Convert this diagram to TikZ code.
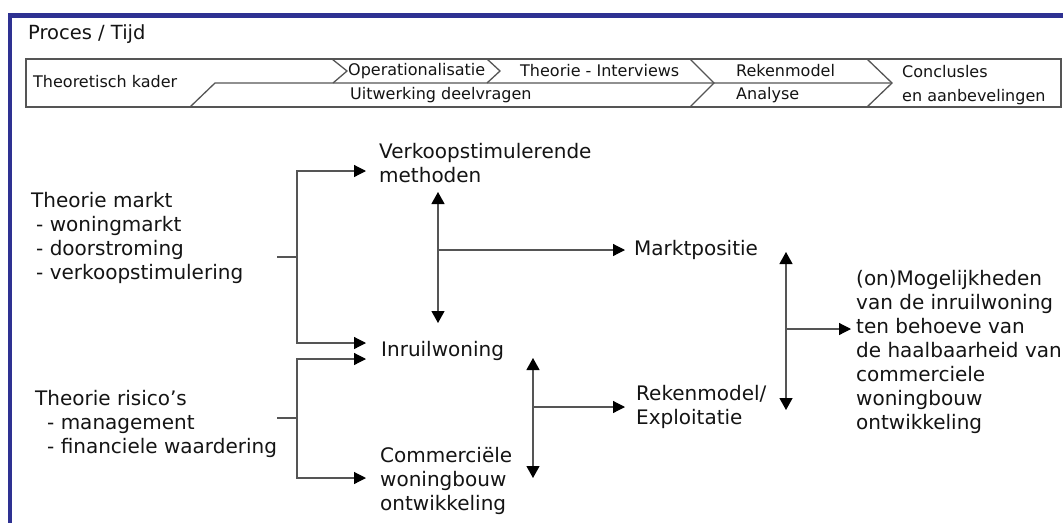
\documentclass[tikz,border=0pt]{standalone}
\usepackage{fontspec}
\setmainfont{DejaVu Sans}
\usetikzlibrary{arrows.meta}
\definecolor{borderblue}{RGB}{46,49,146}
\definecolor{lngray}{RGB}{85,85,85}
\definecolor{txtc}{RGB}{20,20,20}
\tikzset{
  txt/.style={inner sep=0pt, anchor=west, align=left, text=txtc, font=\fontsize{20}{24}\selectfont},
  bartxt/.style={inner sep=0pt, anchor=west, align=left, text=txtc, font=\fontsize{16}{24}\selectfont},
  bar/.style={draw=lngray, line width=1.3pt},
  ln/.style={draw=lngray, line width=1.2pt},
  ar/.style={ln, -{Triangle[length=12pt,width=12pt,color=black]}},
  dar/.style={ln, {Triangle[length=12pt,width=13pt,color=black]}-{Triangle[length=12pt,width=13pt,color=black]}}
}
\begin{document}
\begin{tikzpicture}[x=1pt,y=-1pt]
\useasboundingbox (0,0) rectangle (1063,523);
\fill[white] (0,0) rectangle (1063,523);
% border
\fill[borderblue] (8,13) rectangle (1063,18);
\fill[borderblue] (8,13) rectangle (12,523);
% title
\node[txt, font=\fontsize{19.5}{22}\selectfont] (title) at (28,34) {Proces / Tijd};
% process bar
\draw[bar] (26,59) rectangle (1061,107);
\draw[bar] (190,107) -- (215,83) -- (892,83);
\draw[bar] (332,59) -- (347,71) -- (333,83);
\draw[bar] (487,59) -- (500,71) -- (487,83);
\draw[bar] (690,59) -- (714,83) -- (690,107);
\draw[bar] (867,59) -- (892,83) -- (867,107);
\node[bartxt] (tk) at (33,82) {Theoretisch kader};
\node[bartxt] (op) at (348,71) {Operationalisatie};
\node[bartxt] (ti) at (520,71) {Theorie - Interviews};
\node[bartxt] (uw) at (350,95) {Uitwerking deelvragen};
\node[bartxt] (rm) at (736,71) {Rekenmodel};
\node[bartxt] (an) at (736,95) {Analyse};
\node[bartxt] (cc) at (902,85) {Conclusles\\en aanbevelingen};
% main text nodes
\node[txt] (tm) at (31,238) {Theorie markt\\\hspace*{5pt}- woningmarkt\\\hspace*{5pt}- doorstroming\\\hspace*{5pt}- verkoopstimulering};
\node[txt] (tr) at (35,423.5) {Theorie risico's\\\hspace*{12pt}- management\\\hspace*{12pt}- financiele waardering};
\node[txt] (vm) at (379,163.5) {Verkoopstimulerende\\methoden};
\node[txt] (iw) at (381,351) {Inruilwoning};
\node[txt] (cw) at (380,481) {Commerciële\\woningbouw\\ontwikkeling};
\node[txt] (mp) at (634,250) {Marktpositie};
\node[txt] (re) at (636,407) {Rekenmodel/\\Exploitatie};
\node[txt] (om) at (856,352) {(on)Mogelijkheden\\van de inruilwoning\\ten behoeve van\\de haalbaarheid van\\commerciele\\woningbouw\\ontwikkeling};
% coordinates
\coordinate (s1) at (277,257);
\coordinate (b1) at (297,257);
\coordinate (tv) at (366,171);
\coordinate (ti1) at (366,343);
\coordinate (s2) at (277,418);
\coordinate (b2) at (297,418);
\coordinate (ti2) at (366,359);
\coordinate (tc) at (366,478);
\coordinate (d1t) at (438,192);
\coordinate (d1b) at (438,323);
\coordinate (d1m) at (438,250);
\coordinate (tm1) at (625,250);
\coordinate (d2t) at (533,358);
\coordinate (d2b) at (533,478);
\coordinate (d2m) at (533,407);
\coordinate (tr1) at (625,407);
\coordinate (d3t) at (786,252);
\coordinate (d3b) at (786,410);
\coordinate (d3m) at (786,329);
\coordinate (to1) at (851,329);
% connectors
\draw[ln] (s1) -- (b1);
\draw[ar] (b1) |- (tv);
\draw[ar] (b1) |- (ti1);
\draw[ln] (s2) -- (b2);
\draw[ar] (b2) |- (ti2);
\draw[ar] (b2) |- (tc);
\draw[dar] (d1t) -- (d1b);
\draw[ar] (d1m) -- (tm1);
\draw[dar] (d2t) -- (d2b);
\draw[ar] (d2m) -- (tr1);
\draw[dar] (d3t) -- (d3b);
\draw[ar] (d3m) -- (to1);
\end{tikzpicture}
\end{document}
